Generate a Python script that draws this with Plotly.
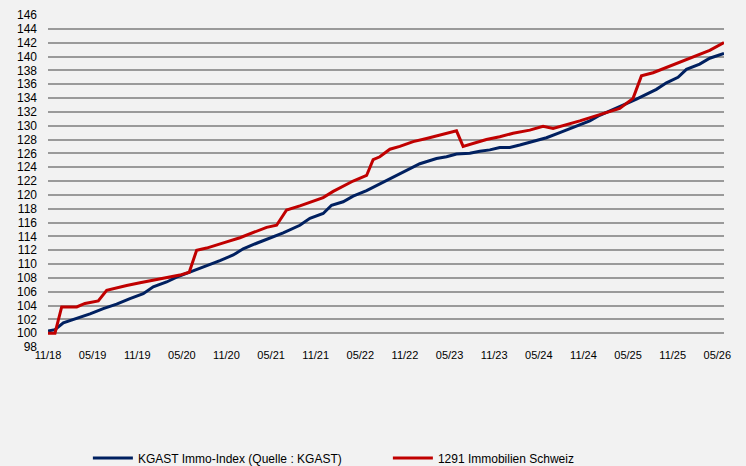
import plotly.graph_objects as go

# months since Nov 2018 (vertex positions)
kgast_months = [0, 0.94, 2.06, 3.86, 5.65, 7.43, 9.23, 11.02, 12.81, 14.15, 15.95, 17.30, 19.09, 20.43,
                23.12, 24.91, 26.25, 28.05, 29.84, 31.63, 33.87, 35.22, 37.00, 38.13, 39.69, 41.03,
                42.84, 44.62, 46.87, 48.21, 50.0, 52.24, 53.59, 54.93, 56.72, 58.06, 59.41, 60.75,
                62.1, 63.44, 65.23, 67.03, 68.82, 70.6, 72.85, 74.19, 76.44, 77.78, 79.13, 80.47,
                81.81, 83.16, 84.72, 85.85, 87.63, 88.98, 90.9]
kgast_values = [100.3, 100.5, 101.5, 102.1, 102.8, 103.55, 104.2, 105.0, 105.7, 106.7, 107.4, 108.1, 108.85, 109.3,
                110.5, 111.3, 112.2, 113.0, 113.7, 114.5, 115.6, 116.6, 117.3, 118.5, 119.0, 119.8,
                120.6, 121.6, 122.85, 123.6, 124.5, 125.25, 125.5, 125.9, 126.0, 126.3, 126.5, 126.85,
                126.85, 127.2, 127.7, 128.25, 129.0, 129.8, 130.7, 131.5, 132.5, 133.2, 133.85, 134.5,
                135.25, 136.2, 137.0, 138.15, 138.9, 139.75, 140.45]

fund_months = [0, 0.94, 1.84, 3.86, 4.97, 6.76, 7.89, 9.23, 10.58, 12.37, 14.15, 15.95, 17.74, 18.99,
               19.99, 21.33, 22.68, 24.02, 25.81, 27.15, 28.49, 29.40, 30.74, 32.08, 33.87, 35.66,
               37.0, 38.35, 39.69, 41.03, 42.84, 43.72, 44.62, 45.97, 47.31, 49.1, 50.9, 52.69,
               54.93, 55.82, 57.16, 58.95, 60.75, 62.54, 64.78, 66.57, 67.92, 69.72, 71.51, 74.19,
               76.88, 78.67, 79.80, 81.36, 84.05, 86.74, 88.98, 90.9]
fund_values = [100.0, 100.0, 103.8, 103.8, 104.3, 104.65, 106.2, 106.6, 106.9, 107.3, 107.65, 108.1, 108.4, 108.8,
               112.0, 112.3, 112.7, 113.2, 113.8, 114.4, 114.9, 115.3, 115.6, 117.8, 118.4, 119.1,
               119.6, 120.5, 121.2, 122.0, 122.8, 125.1, 125.5, 126.6, 127.0, 127.7, 128.15, 128.6,
               129.25, 127.0, 127.4, 128.0, 128.4, 128.9, 129.35, 129.9, 129.6, 130.1, 130.7, 131.6,
               132.5, 133.95, 137.2, 137.65, 138.8, 139.9, 140.9, 142.0]

tick_months = [0, 6, 12, 18, 24, 30, 36, 42, 48, 54, 60, 66, 72, 78, 84, 90]
tick_labels = ["11/18", "05/19", "11/19", "05/20", "11/20", "05/21", "11/21", "05/22",
               "11/22", "05/23", "11/23", "05/24", "11/24", "05/25", "11/25", "05/26"]

font_family = "Arial, Liberation Sans, sans-serif"

fig = go.Figure()
fig.add_trace(go.Scatter(x=kgast_months, y=kgast_values, mode="lines",
                         name="KGAST Immo-Index (Quelle : KGAST)",
                         line=dict(color="#002060", width=3)))
fig.add_trace(go.Scatter(x=fund_months, y=fund_values, mode="lines",
                         name="1291 Immobilien Schweiz",
                         line=dict(color="#C00000", width=3)))

fig.update_layout(
    width=746, height=466,
    paper_bgcolor="#f2f2f2", plot_bgcolor="#f2f2f2",
    margin=dict(l=48, r=22, t=15, b=119, autoexpand=False),
    font=dict(family=font_family, color="#000000"),
    showlegend=True,
    legend=dict(orientation="h", x=0.059, xanchor="left", y=-0.334, yanchor="middle",
                font=dict(size=12, family=font_family), itemwidth=40,
                entrywidth=245, entrywidthmode="pixels",
                bgcolor="rgba(0,0,0,0)", tracegroupgap=0),
    xaxis=dict(range=[0, 90.9], tickmode="array", tickvals=tick_months, ticktext=tick_labels,
               showgrid=False, zeroline=False, showline=False, ticks="",
               tickfont=dict(size=11), ticklabelstandoff=0, automargin=False),
    yaxis=dict(range=[98, 146], dtick=2, tick0=98, showgrid=True, gridcolor="#9a9a9a",
               gridwidth=1.6, zeroline=False, showline=False, ticks="",
               tickfont=dict(size=12), ticklabelstandoff=10, automargin=False),
)

fig.write_html(
    "out.html",
    config={"displayModeBar": False},
    post_script="document.body.style.margin='0px';document.body.style.background='#f2f2f2';",
)
